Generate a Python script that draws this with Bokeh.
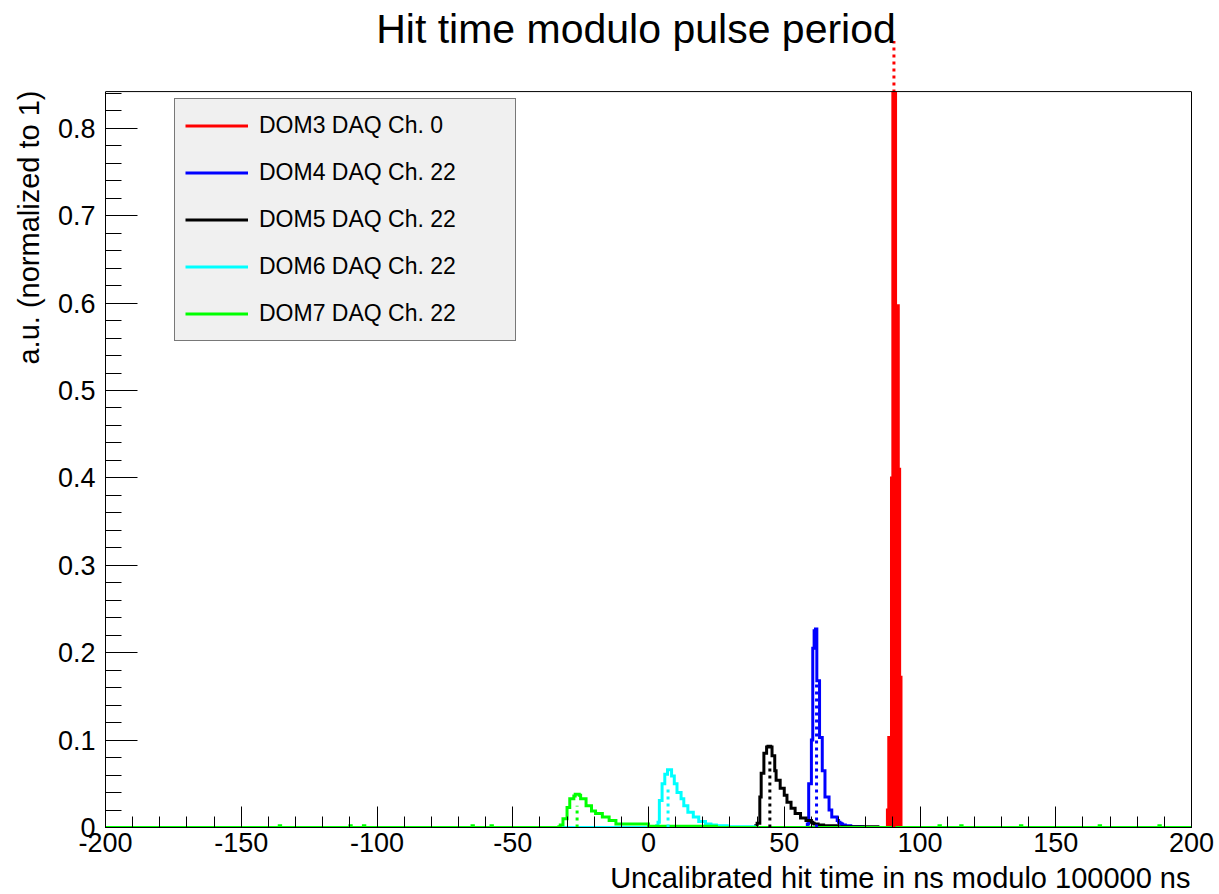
import numpy as np
from bokeh.plotting import figure
from bokeh.models import (Range1d, SingleIntervalTicker, FixedTicker, Legend, LegendItem,
                          Label, Title, LinearAxis)
from bokeh.embed import file_html
from bokeh.resources import INLINE

# ---------------- data ----------------
BIN_WIDTH = 0.5
X_MIN, X_MAX = -200.0, 200.0

series_labels = ["DOM3 DAQ Ch. 0", "DOM4 DAQ Ch. 22", "DOM5 DAQ Ch. 22",
                 "DOM6 DAQ Ch. 22", "DOM7 DAQ Ch. 22"]
series_colors = ["#ff0000", "#0000ff", "#000000", "#00ffff", "#00ff00"]

# DOM3 (red) - peak runs up to the top of the frame
red_start = 88.0
red_vals = [0.02, 0.103, 0.103, 0.40, 0.84, 0.84, 0.597, 0.597, 0.41, 0.172]

# DOM4 (blue)
blue_start = 58.5
blue_vals = [0.004, 0.05, 0.05, 0.10, 0.205, 0.225, 0.227, 0.168, 0.168,
             0.103, 0.103, 0.065, 0.065, 0.035, 0.035, 0.035, 0.02, 0.02,
             0.012, 0.012, 0.012, 0.012, 0.008, 0.006, 0.005, 0.004, 0.003,
             0.003, 0.002, 0.002, 0.002, 0.002, 0.001, 0.001, 0.001, 0.001,
             0.001, 0.001, 0.001, 0.001, 0.001]

# DOM5 (black)
black_start = 39.5
black_vals = [0.002, 0.005, 0.005, 0.035, 0.062, 0.062, 0.085, 0.085, 0.092,
              0.093, 0.093, 0.092, 0.082, 0.082, 0.065, 0.054, 0.054, 0.054,
              0.045, 0.045, 0.045, 0.037, 0.037, 0.029, 0.029, 0.029, 0.022,
              0.022, 0.022, 0.016, 0.016, 0.016, 0.016, 0.011, 0.011, 0.011,
              0.011, 0.008, 0.008, 0.008, 0.008, 0.006, 0.005, 0.004, 0.004,
              0.004, 0.003, 0.003, 0.003, 0.003,
              0.002, 0.002, 0.002, 0.002, 0.002, 0.002, 0.002, 0.002, 0.002, 0.002,
              0.001, 0.001, 0.001, 0.001, 0.001, 0.001, 0.001, 0.001, 0.001, 0.001,
              0.001, 0.001, 0.001, 0.001, 0.001, 0.001, 0.001, 0.001, 0.001, 0.001,
              0.001, 0.001, 0.001, 0.001, 0.001, 0.001, 0.001, 0.001, 0.001, 0.001]

# DOM6 (cyan)
cyan_start = 3.0
cyan_vals = [0.002, 0.006, 0.031, 0.031, 0.05, 0.05, 0.061, 0.061, 0.066,
             0.066, 0.066, 0.059, 0.059, 0.05, 0.05, 0.04, 0.04, 0.04, 0.033,
             0.033, 0.025, 0.025, 0.025, 0.0175, 0.0175, 0.0175, 0.0175,
             0.012, 0.012, 0.012, 0.012, 0.007, 0.007, 0.007, 0.007, 0.007,
             0.004, 0.004, 0.004, 0.004, 0.003, 0.003, 0.003, 0.003,
             0.002, 0.002, 0.002, 0.002, 0.002, 0.002, 0.002, 0.002,
             0.001, 0.001, 0.001, 0.001, 0.001, 0.001, 0.001, 0.001, 0.001, 0.001,
             0.001, 0.001, 0.001, 0.001, 0.001, 0.001, 0.001, 0.001, 0.001, 0.001]

# DOM7 (green)
green_start = -33.0
green_vals = [0.001, 0.003, 0.003, 0.01, 0.01, 0.01, 0.023, 0.023, 0.033,
              0.033, 0.033, 0.036, 0.038, 0.038, 0.038, 0.037,
              0.033, 0.033, 0.033, 0.033, 0.025, 0.025, 0.025, 0.025,
              0.019, 0.019, 0.019, 0.016, 0.016, 0.016, 0.016, 0.016,
              0.012, 0.012, 0.012, 0.012, 0.012, 0.008, 0.008, 0.008, 0.008, 0.008,
              0.004, 0.004, 0.004, 0.004, 0.004, 0.004, 0.004, 0.004, 0.004, 0.004,
              0.004, 0.004, 0.004, 0.004, 0.004, 0.004, 0.004, 0.004, 0.004, 0.004,
              0.004, 0.004, 0.004, 0.004,
              0.0015, 0.0015, 0.0015, 0.0015, 0.0015, 0.0015, 0.0015, 0.0015, 0.0015, 0.0015,
              0.0015, 0.0015, 0.0015, 0.0015, 0.0015, 0.0015, 0.0015, 0.0015, 0.0015, 0.0015,
              0.0015, 0.0015, 0.0015, 0.0015, 0.0015, 0.0015, 0.0015, 0.0015, 0.0015, 0.0015,
              0.0015, 0.0015, 0.0015, 0.0015, 0.0015, 0.0015, 0.0015, 0.0015, 0.0015, 0.0015,
              0.0015, 0.0015, 0.0015, 0.0015, 0.0015, 0.0015, 0.0015, 0.0015, 0.0015, 0.0015]
green_noise_x = [-136.0, -110.0, -105.0, -65.0, -58.0, 107.0, 115.0, 137.0, 166.0, 188.0]
green_noise_y = [0.002, 0.002, 0.002, 0.002, 0.002, 0.002, 0.002, 0.002, 0.002, 0.002]

# dotted marker lines (position, height)
marker_x = [90.4, 61.9, 44.7, 7.2, -26.3]
marker_h = [0.90, 0.168, 0.077, 0.048, 0.025]

x_tick_labels = {-200: "-200", -150: "-150", -100: "-100", -50: "-50"}
title_text = "Hit time modulo pulse period"
x_title = "Uncalibrated hit time in ns modulo 100000 ns"
y_title = "a.u. (normalized to 1)"

# ---------------- layout constants ----------------
Y_AXIS_TOP = 0.842        # top of the drawn frame
FRAME_W, FRAME_H = 1086, 827
PX_PER_UNIT_Y = 874.0
Y_CANVAS_TOP = FRAME_H / PX_PER_UNIT_Y
FONT = "Liberation Sans"

# ---------------- build histograms ----------------
edges = np.arange(X_MIN, X_MAX + BIN_WIDTH / 2, BIN_WIDTH)
nbins = len(edges) - 1


def hist(start, vals):
    h = np.zeros(nbins)
    i0 = int(round((start - X_MIN) / BIN_WIDTH))
    h[i0:i0 + len(vals)] = vals
    return h


hists = [hist(red_start, red_vals), hist(blue_start, blue_vals),
         hist(black_start, black_vals), hist(cyan_start, cyan_vals),
         hist(green_start, green_vals)]
for nx, ny in zip(green_noise_x, green_noise_y):
    hists[4][int(round((nx - X_MIN) / BIN_WIDTH))] = ny

p = figure(frame_width=FRAME_W, frame_height=FRAME_H, output_backend="svg",
           toolbar_location=None, title=None,
           x_range=Range1d(X_MIN, X_MAX), y_range=Range1d(0, Y_CANVAS_TOP),
           min_border_left=105, min_border_right=28, min_border_top=0,
           min_border_bottom=67)
p.background_fill_color = "white"
p.border_fill_color = "white"
p.outline_line_color = None
p.xgrid.visible = False
p.ygrid.visible = False

p.xaxis.ticker = SingleIntervalTicker(interval=50, num_minor_ticks=5)
p.yaxis.ticker = SingleIntervalTicker(interval=0.1, num_minor_ticks=5)
p.yaxis.bounds = (0, Y_AXIS_TOP)
p.yaxis.major_label_overrides = {0: "0"}
p.xaxis.major_label_overrides = x_tick_labels
for ax in (p.xaxis[0], p.yaxis[0]):
    ax.major_label_text_font = FONT
    ax.major_label_text_font_size = "27px"
    ax.major_label_text_color = "black"
    ax.axis_line_color = "black"
    ax.major_tick_line_color = "black"
    ax.minor_tick_line_color = "black"
    ax.major_tick_out = 0
    ax.minor_tick_out = 0
p.xaxis.major_tick_in = 21
p.xaxis.minor_tick_in = 11
p.yaxis.major_tick_in = 32
p.yaxis.minor_tick_in = 16
p.xaxis.major_label_standoff = 5
p.yaxis.major_label_standoff = 10

# right frame edge as a bare axis line
right_axis = LinearAxis(ticker=FixedTicker(ticks=[]), bounds=(0, Y_AXIS_TOP),
                        axis_line_color="black", major_tick_in=0, major_tick_out=0,
                        minor_tick_in=0, minor_tick_out=0)
p.add_layout(right_axis, "right")

# axis titles
p.add_layout(Title(text=y_title, align="right", offset=90, standoff=20,
                   text_font=FONT, text_font_size="29px", text_font_style="normal",
                   text_color="black"), "left")
p.add_layout(Title(text=x_title, align="right", vertical_align="top", standoff=14,
                   offset=1, text_font=FONT, text_font_size="29px",
                   text_line_height=0.75, text_font_style="normal",
                   text_color="black"), "below")

# histograms
p.varea_step(x=edges, y1=np.zeros(len(edges)), y2=np.append(hists[0], hists[0][-1]),
             step_mode="after", fill_color=series_colors[0])
renderers = []
for h, c in zip(hists, series_colors):
    r = p.step(x=edges, y=np.append(h, h[-1]), mode="after", line_color=c,
               line_width=3, line_join="miter")
    renderers.append(r)

# dotted marker lines
for mx, mh, c in zip(marker_x, marker_h, series_colors):
    p.segment(x0=[mx], y0=[0], x1=[mx], y1=[mh], line_color=c, line_width=3,
              line_dash="3 4")

# top frame edge
p.segment(x0=[X_MIN], y0=[Y_AXIS_TOP], x1=[X_MAX], y1=[Y_AXIS_TOP],
          line_color="black", line_width=1)

# main title
p.add_layout(Label(x=-4.6, y=(FRAME_H - 28) / PX_PER_UNIT_Y, text=title_text,
                   text_align="center", text_baseline="alphabetic", text_font=FONT,
                   text_font_size="41px", text_color="black"))

items = [LegendItem(label=l, renderers=[r]) for l, r in zip(series_labels, renderers)]
legend = Legend(items=items, location=(69, 486))
legend.background_fill_color = "#f0f0f0"
legend.background_fill_alpha = 1.0
legend.border_line_color = "black"
legend.border_line_width = 1
legend.label_text_font = FONT
legend.label_text_font_size = "23px"
legend.label_text_color = "black"
legend.glyph_width = 63
legend.glyph_height = 33
legend.label_height = 33
legend.label_width = 246
legend.label_standoff = 11
legend.spacing = 14
legend.padding = 10
legend.margin = 0
p.add_layout(legend)

open("out.html", "w").write(file_html(p, INLINE))
